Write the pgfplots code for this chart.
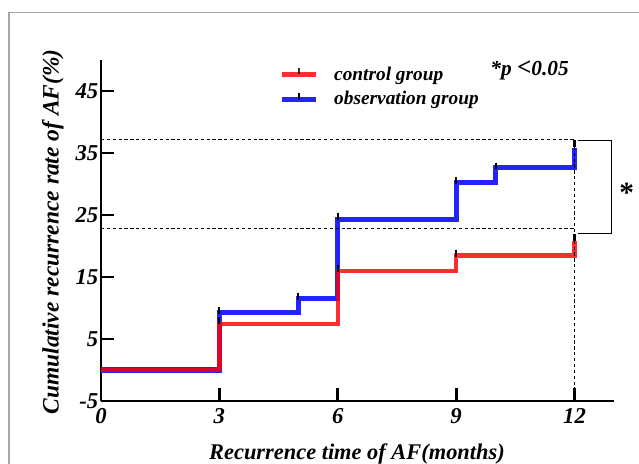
\documentclass[border=0pt]{standalone}
\usepackage{fontspec}
\setmainfont{Liberation Serif}
\usepackage{pgfplots}
\pgfplotsset{compat=1.18}
\definecolor{cred}{RGB}{255,0,0}
\definecolor{cblue}{RGB}{35,35,255}
\begin{document}
\begin{tikzpicture}
\useasboundingbox (-75.75pt,-47.25pt) rectangle (403.5pt,300.75pt);
\draw[black!35, line width=1.1pt] (-69pt,-60pt) -- (-69pt,291.2pt) -- (420pt,291.2pt);
\begin{axis}[
 at={(0,0)}, anchor=south west,
 scale only axis, width=384.75pt, height=255.75pt,
 xmin=0, xmax=13, ymin=-5, ymax=50,
 axis lines=left, axis line style={-, line width=2.2pt},
 clip=false,
 xtick={0,3,6,9,12}, xticklabels={0,3,6,9,12},
 ytick={-5,5,15,25,35,45}, yticklabels={-5,5,15,25,35,45},
 tick align=inside, major tick length=10pt,
 tick style={line width=2.2pt, black},
 ticklabel style={font=\fontsize{17}{19}\selectfont\bfseries\itshape},
 xticklabel style={yshift=-2pt},
 yticklabel style={xshift=1.5pt},
 xlabel={Recurrence time of AF(months)},
 ylabel={Cumulative recurrence rate of AF(\%)},
 xlabel style={at={(axis description cs:0.499,-0.155)}, anchor=center, font=\fontsize{16.8}{19}\selectfont\bfseries\itshape},
 ylabel style={at={(axis description cs:-0.0936,0.496)}, anchor=center, font=\fontsize{17.6}{20}\selectfont\bfseries\itshape},
 legend style={draw=none, fill=none, at={(axis description cs:0.339,0.997)}, anchor=north west,
   font=\fontsize{14.5}{17}\selectfont\bfseries\itshape, row sep=3pt,
   /tikz/every odd column/.style={column sep=10pt}},
 legend cell align=left,
 reverse legend,
]
\addplot[const plot, cblue, line width=3.8pt, line cap=butt, line join=miter,
  legend image code/.code={\draw[cblue, line width=3.8pt] (0pt,0pt) -- (25.5pt,0pt); \draw[black,line width=1.6pt] (12.75pt,0pt) -- (12.75pt,4.5pt);}]
  coordinates {(0,0) (3,9.2) (5,11.5) (6,24.3) (9,30.2) (10,32.6) (12,35.8)};
\addlegendentry{observation group}
\addplot[const plot, cred, draw opacity=0.82, line width=3.4pt, line cap=butt, line join=miter,
  legend image code/.code={\draw[cred, draw opacity=0.82, line width=3.4pt] (0pt,0pt) -- (25.5pt,0pt); \draw[black,line width=1.6pt] (12.75pt,0pt) -- (12.75pt,4.5pt);}]
  coordinates {(0,0) (3,7.4) (6,16.0) (9,18.5) (12,20.8)};
\addlegendentry{control group}
\addplot[only marks, mark=|, mark size=2.6pt, black, line width=1.6pt, forget plot]
  coordinates {(3,9.6) (5,11.9) (6,24.7) (9,30.5) (10,32.9) (12,36.5)};
\addplot[only marks, mark=|, mark size=2.6pt, black, line width=1.6pt, forget plot]
  coordinates {(3,8.0) (6,16.3) (9,18.8) (12,21.4)};
\draw[black, line width=1.1pt, dash pattern=on 2.4pt off 2pt] (axis cs:0,37.2) -- (axis cs:12,37.2) -- (axis cs:12,-5);
\draw[black, line width=1.1pt, dash pattern=on 2.4pt off 2pt] (axis cs:0,22.8) -- (axis cs:12,22.8);
\draw[black, line width=0.9pt] (axis cs:12.08,37.05) -- (axis cs:12.93,37.05) -- (axis cs:12.93,22.05) -- (axis cs:12.08,22.05);
\node[font=\fontsize{22}{24}\selectfont\bfseries] at (axis cs:13.32,28.6) {*};
\node[font=\fontsize{16}{18}\selectfont\bfseries\itshape, anchor=center] at (axis cs:10.86,48.3) {*p {\fontsize{19}{19}\selectfont<}0.05};
\end{axis}
\end{tikzpicture}
\end{document}
